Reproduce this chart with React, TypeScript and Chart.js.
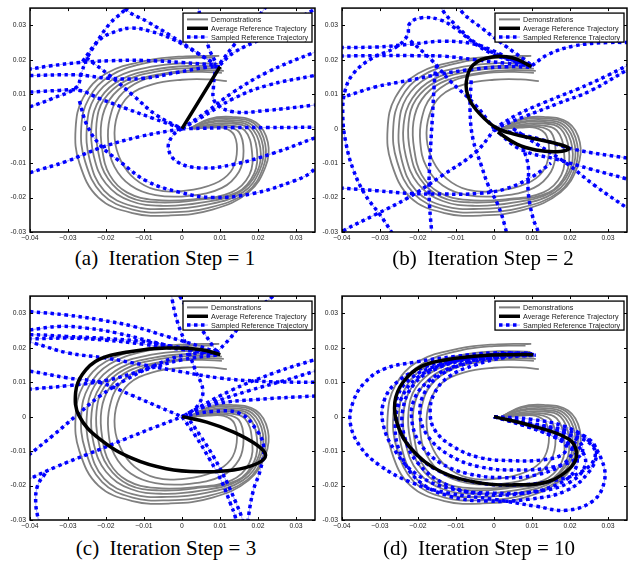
import { useEffect, useRef } from "react";
import { Chart, registerables } from "chart.js";

Chart.register(...registerables);

type P = [number, number];

// ---------- axes ----------
const X_MIN = -0.04;
const X_MAX = 0.035;
const Y_MIN = -0.03;
const Y_MAX = 0.035;
const X_TICKS = [-0.04, -0.03, -0.02, -0.01, 0, 0.01, 0.02, 0.03];
const X_TICK_LABELS = ["\u22120.04", "\u22120.03", "\u22120.02", "\u22120.01", "0", "0.01", "0.02", "0.03"];
const Y_TICKS = [-0.03, -0.02, -0.01, 0, 0.01, 0.02, 0.03];
const Y_TICK_LABELS = ["-0.03", "-0.02", "-0.01", "0", "0.01", "0.02", "0.03"];

const LEGEND_LABELS = ["Demonstrations", "Average Reference Trajectory", "Sampled Reference Trajectory"];
const CAPTIONS = ["(a)  Iteration Step = 1", "(b)  Iteration Step = 2", "(c)  Iteration Step = 3", "(d)  Iteration Step = 10"];

// ---------- demonstrations (same in every panel) ----------
const DEMO_1: P[] = [[0.002,0],[0.007,0.0028],[0.013,0.0034],[0.0195,0.0018],[0.0226,-0.004],[0.022,-0.011],[0.0175,-0.0185],[0.008,-0.0235],[-0.003,-0.0252],[-0.013,-0.0245],[-0.022,-0.02],[-0.027,-0.01],[-0.028,0],[-0.026,0.009],[-0.02,0.016],[-0.009,0.0198],[0.001,0.021],[0.0098,0.0211]];
const DEMO_2: P[] = [[0.002,0],[0.007,0.0025],[0.013,0.003],[0.019,0.0015],[0.0219,-0.0045],[0.0213,-0.0115],[0.017,-0.0185],[0.007,-0.023],[-0.004,-0.0243],[-0.013,-0.0235],[-0.021,-0.019],[-0.0255,-0.0095],[-0.0265,0.0005],[-0.0245,0.0088],[-0.019,0.0153],[-0.009,0.0192],[0,0.0205],[0.0083,0.0206]];
const DEMO_3: P[] = [[0.002,0],[0.007,0.002],[0.013,0.0025],[0.0185,0.001],[0.0213,-0.005],[0.0205,-0.012],[0.016,-0.0185],[0.006,-0.0222],[-0.004,-0.0233],[-0.013,-0.0225],[-0.0205,-0.018],[-0.0243,-0.009],[-0.025,0.001],[-0.023,0.009],[-0.0175,0.0148],[-0.008,0.018],[0.001,0.019],[0.0096,0.0188]];
const DEMO_4: P[] = [[0.0025,0],[0.007,0.0017],[0.013,0.002],[0.018,0.0005],[0.0206,-0.0055],[0.0198,-0.0125],[0.015,-0.0185],[0.005,-0.0215],[-0.005,-0.0224],[-0.0135,-0.021],[-0.02,-0.016],[-0.0232,-0.008],[-0.0238,0.001],[-0.0215,0.0088],[-0.016,0.0143],[-0.007,0.0172],[0.002,0.0182],[0.01,0.018]];
const DEMO_5: P[] = [[0.0025,0],[0.007,0.0012],[0.013,0.0015],[0.0175,0],[0.0197,-0.006],[0.019,-0.013],[0.0145,-0.0185],[0.004,-0.0207],[-0.006,-0.0214],[-0.014,-0.0198],[-0.0195,-0.0145],[-0.022,-0.007],[-0.0225,0.0015],[-0.0205,0.0085],[-0.015,0.0138],[-0.006,0.0167],[0.003,0.0176],[0.0105,0.0174]];
const DEMO_6: P[] = [[0.003,0],[0.007,0.0008],[0.012,0.001],[0.0165,-0.0005],[0.0184,-0.0065],[0.0177,-0.0135],[0.013,-0.0185],[0.003,-0.0205],[-0.007,-0.0207],[-0.0145,-0.0185],[-0.019,-0.0135],[-0.021,-0.006],[-0.0212,0.002],[-0.019,0.0085],[-0.014,0.0133],[-0.005,0.016],[0.004,0.017],[0.011,0.0168]];
const DEMO_7: P[] = [[0.003,0],[0.007,0.0005],[0.0115,0.0006],[0.015,-0.001],[0.0162,-0.0065],[0.015,-0.0125],[0.0105,-0.0172],[0.002,-0.0195],[-0.007,-0.0193],[-0.0135,-0.0165],[-0.0178,-0.011],[-0.0194,-0.004],[-0.019,0.003],[-0.0165,0.0093],[-0.011,0.0138],[-0.003,0.016],[0.005,0.0165],[0.0105,0.0162]];
const DEMO_8: P[] = [[0.003,0],[0.007,0.0003],[0.011,0.0002],[0.0138,-0.002],[0.0144,-0.0075],[0.0128,-0.0125],[0.0085,-0.016],[0.001,-0.018],[-0.007,-0.0177],[-0.0125,-0.0145],[-0.016,-0.0095],[-0.0177,-0.003],[-0.017,0.004],[-0.014,0.0095],[-0.008,0.0128],[0,0.0142],[0.007,0.0143],[0.0118,0.0138]];
const DEMOS: P[][] = [DEMO_1, DEMO_2, DEMO_3, DEMO_4, DEMO_5, DEMO_6, DEMO_7, DEMO_8];

// ---------- (a) iteration 1 ----------
const AVG_A: P[] = [[0,0],[0.01,0.018]];
const SAMPLES_A: P[][] = [
  [[-0.046,0.0168],[-0.04,0.0173],[-0.0348,0.0182],[-0.0269,0.0192],[-0.019,0.0197],[-0.01,0.0198],[0,0.0192],[0.009,0.0185]],
  [[-0.046,0.0153],[-0.0401,0.0154],[-0.0278,0.0156],[-0.019,0.0146],[-0.0102,0.0146],[-0.0014,0.0163],[0.0065,0.0178],[0.01,0.018]],
  [[-0.046,0.0104],[-0.0401,0.0106],[-0.0322,0.0111],[-0.0269,0.0111],[-0.0216,0.0087],[-0.0146,0.0058],[-0.0076,0.003],[0,0]],
  [[-0.046,-0.015],[-0.0401,-0.0128],[-0.0304,-0.0095],[-0.0216,-0.0056],[-0.0111,-0.0023],[0,0]],
  [[-0.046,0.004],[-0.0401,0.0063],[-0.034,0.0088],[-0.0278,0.012],[-0.0265,0.016],[-0.0252,0.02],[-0.0225,0.025],[-0.019,0.0305],[-0.0155,0.034],[-0.012,0.038]],
  [[-0.0262,0.0195],[-0.0216,0.0259],[-0.0172,0.0283],[-0.0133,0.0292],[-0.0084,0.0283],[-0.0023,0.0259],[0.0039,0.022],[0.0085,0.019]],
  [[-0.018,0.04],[-0.0146,0.0345],[-0.009,0.031],[-0.003,0.027],[0.002,0.0235],[0.0065,0.0202],[0.009,0.0185]],
  [[0.003,0.04],[0.0045,0.034],[0.006,0.028],[0.0072,0.023],[0.009,0.019]],
  [[0.01,0.019],[0.0135,0.024],[0.0153,0.0265],[0.0188,0.0307],[0.0215,0.0345],[0.024,0.038]],
  [[0.01,0.0185],[0.0135,0.022],[0.0223,0.0268],[0.0285,0.0307],[0.0347,0.0345],[0.04,0.0375]],
  [[0,0],[0.0065,0.0049],[0.0135,0.0106],[0.0223,0.0163],[0.0347,0.0221],[0.042,0.025]],
  [[0,0],[0.0047,0.003],[0.0135,0.0087],[0.0223,0.0125],[0.0347,0.0154],[0.042,0.017]],
  [[0.009,0.0185],[0.0083,0.0125],[0.0087,0.0077],[0.0135,0.0049],[0.0223,0.0053],[0.0347,0.0068],[0.042,0.0075]],
  [[0,0],[0.0012,0],[0.0135,0.0003],[0.0223,0.0003],[0.0347,0.0004],[0.042,0.0004]],
  [[0,0],[-0.0023,-0.0018],[-0.0036,-0.0056],[-0.0014,-0.0095],[0.0047,-0.0114],[0.0135,-0.0104],[0.0241,-0.0071],[0.0347,-0.0028],[0.042,0]],
  [[-0.027,0.008],[-0.025,0.001],[-0.0216,-0.0047],[-0.0164,-0.0095],[-0.0093,-0.0152],[-0.0005,-0.0185],[0.0083,-0.02],[0.0188,-0.0188],[0.0294,-0.0152],[0.0338,-0.0128],[0.037,-0.009]],
  [[-0.0252,0.0206],[-0.019,0.0154],[-0.0128,0.0096],[-0.0067,0.0039],[0,0]],
];

// ---------- (b) iteration 2 ----------
const AVG_B: P[] = [[0.001,-0.001],[0.006,-0.0045],[0.011,-0.0062],[0.0165,-0.0067],[0.0197,-0.0058],[0.017,-0.0045],[0.011,-0.003],[0.005,-0.0015],[0.0005,0.0003],[-0.0035,0.004],[-0.0065,0.0085],[-0.0073,0.0135],[-0.0055,0.0185],[-0.0005,0.0208],[0.005,0.0205],[0.0098,0.018]];
const SAMPLES_B: P[][] = [
  [[-0.025,-0.034],[-0.027,-0.03],[-0.03,-0.025],[-0.034,-0.019],[-0.037,-0.012],[-0.039,-0.004],[-0.0398,0.004],[-0.0392,0.011],[-0.037,0.016],[-0.032,0.0205],[-0.026,0.0235],[-0.0228,0.027],[-0.0222,0.0305],[-0.019,0.0322],[-0.014,0.0315],[-0.01,0.029],[-0.006,0.0255],[-0.001,0.022],[0.004,0.02],[0.01,0.0183]],
  [[-0.046,0.0235],[-0.031,0.0237],[-0.022,0.0245],[-0.013,0.0254],[-0.005,0.0245],[0,0.0225],[0.005,0.02],[0.01,0.0183]],
  [[-0.046,0.021],[-0.031,0.0212],[-0.022,0.0212],[-0.013,0.021],[-0.005,0.02],[0.003,0.019],[0.01,0.0183]],
  [[-0.046,0.0085],[-0.04,0.0092],[-0.0313,0.0121],[-0.0225,0.014],[-0.0138,0.0159],[-0.005,0.0173],[0.0037,0.018],[0.0098,0.0178]],
  [[0.01,0.0183],[0.0142,0.0215],[0.021,0.024],[0.03,0.025],[0.04,0.0248]],
  [[0,0],[0.008,0.0035],[0.0168,0.0073],[0.0256,0.0111],[0.035,0.017],[0.042,0.021]],
  [[0,0],[0.006,0.004],[0.013,0.0075],[0.022,0.0115],[0.03,0.0155],[0.038,0.02]],
  [[0,0],[0.012,-0.003],[0.021,-0.006],[0.035,-0.0085],[0.042,-0.0095]],
  [[0,0],[0.007,-0.006],[0.0168,-0.009],[0.0256,-0.0118],[0.035,-0.0146],[0.042,-0.017]],
  [[0.005,0],[0.012,-0.005],[0.019,-0.01],[0.0265,-0.0165],[0.035,-0.023],[0.042,-0.028]],
  [[-0.015,0.038],[-0.0133,0.034],[-0.01,0.03],[-0.005,0.025],[0.002,0.021],[0.01,0.0183]],
  [[-0.01,0.038],[-0.0085,0.034],[-0.003,0.029],[0.003,0.024],[0.008,0.02],[0.01,0.0183]],
  [[-0.015,0.0185],[-0.0155,0.016],[-0.0162,0.0035],[-0.0168,-0.0079],[-0.0171,-0.0184],[-0.0164,-0.0299],[-0.0158,-0.035]],
  [[-0.006,0.014],[-0.0063,0.005],[-0.0055,-0.0032],[-0.0033,-0.0108],[-0.0015,-0.0165],[0.0011,-0.0223],[0.0028,-0.028],[0.004,-0.034]],
  [[0.0075,-0.005],[0.009,-0.0108],[0.009,-0.0184],[0.0103,-0.0261],[0.0116,-0.0299],[0.0122,-0.034]],
  [[-0.046,-0.0168],[-0.031,-0.018],[-0.022,-0.0188],[-0.013,-0.019],[-0.004,-0.0188],[0.003,-0.0175],[0.01,-0.014],[0.015,-0.01]],
  [[-0.046,-0.034],[-0.0391,-0.0293],[-0.0313,-0.025],[-0.0225,-0.02],[-0.0138,-0.0137],[-0.005,-0.007],[0,-0.0005]],
  [[-0.022,0.0255],[-0.0165,0.02],[-0.0115,0.0138],[-0.005,0.007],[0,0]],
];

// ---------- (c) iteration 3 ----------
const AVG_C: P[] = [[0,0],[0.0065,-0.0016],[0.0136,-0.0045],[0.0198,-0.0083],[0.022,-0.0112],[0.0198,-0.0136],[0.0136,-0.0155],[0.0048,-0.016],[-0.0041,-0.0151],[-0.0129,-0.0122],[-0.0218,-0.0064],[-0.0271,0.0003],[-0.028,0.007],[-0.0262,0.0123],[-0.0218,0.0166],[-0.0129,0.019],[-0.0041,0.0199],[0.0048,0.0195],[0.0101,0.018]];
const SAMPLES_C: P[][] = [
  [[-0.046,0.031],[-0.0401,0.0305],[-0.0304,0.0295],[-0.0216,0.0281],[-0.0128,0.0262],[-0.004,0.0233],[0.0047,0.0204],[0.0096,0.0185]],
  [[-0.046,0.0248],[-0.0401,0.0252],[-0.0322,0.0262],[-0.0251,0.0257],[-0.0172,0.0243],[-0.0084,0.0219],[0.001,0.0195],[0.0098,0.0182]],
  [[-0.046,0.0236],[-0.0401,0.0238],[-0.0304,0.0233],[-0.0216,0.0228],[-0.0111,0.0219],[-0.0023,0.0204],[0.0098,0.0182]],
  [[-0.046,0.0228],[-0.0397,0.0226],[-0.03,0.0228],[-0.02,0.0222],[-0.01,0.021],[0,0.0195],[0.0095,0.0183]],
  [[-0.046,0.023],[-0.0392,0.0214],[-0.03,0.0185],[-0.02,0.017],[-0.01,0.015],[0,0.013],[0.01,0.0112],[0.02,0.0103],[0.03,0.01],[0.036,0.01],[0.042,0.0098]],
  [[-0.046,0.0137],[-0.0401,0.0132],[-0.0304,0.0113],[-0.0216,0.0099],[-0.0128,0.006],[-0.0058,0.0027],[0,0]],
  [[-0.046,0.0075],[-0.04,0.008],[-0.03,0.009],[-0.02,0.0105],[-0.01,0.0135],[0,0.0165],[0.01,0.018]],
  [[-0.046,-0.016],[-0.0404,-0.0112],[-0.034,-0.0055],[-0.0278,0.0003],[-0.0216,0.006],[-0.0146,0.0108],[-0.0076,0.0147],[0.0012,0.018],[0.0098,0.0182]],
  [[-0.046,-0.021],[-0.04,-0.018],[-0.033,-0.0145],[-0.025,-0.011],[-0.015,-0.0065],[-0.007,-0.003],[0,0]],
  [[-0.036,-0.0165],[-0.038,-0.02],[-0.0385,-0.025],[-0.0378,-0.03],[-0.037,-0.035]],
  [[-0.001,0.037],[-0.0005,0.0348],[0.003,0.029],[0.006,0.024],[0.009,0.019]],
  [[0,0],[0.0035,-0.0055],[0.0074,-0.0126],[0.0105,-0.019],[0.0127,-0.0251],[0.014,-0.029],[0.0148,-0.034]],
  [[0.001,0.0005],[0.0048,-0.0055],[0.0085,-0.012],[0.0118,-0.019],[0.0142,-0.025],[0.0158,-0.0295],[0.0168,-0.034]],
  [[0,0],[0.008,0.0015],[0.0153,0.0009],[0.0197,-0.004],[0.0215,-0.0088],[0.0206,-0.0155],[0.0188,-0.0213],[0.0175,-0.029],[0.017,-0.035]],
  [[-0.003,0.038],[-0.0025,0.0335],[-0.0012,0.0275],[0.001,0.021],[0.0035,0.0135],[0.0055,0.0075],[0.004,0.003],[0.001,0.0005]],
  [[0,0],[0.0127,0.0075],[0.025,0.013],[0.0351,0.0166],[0.042,0.019]],
  [[0,0],[0.008,0.004],[0.0175,0.0075],[0.027,0.0105],[0.035,0.0132],[0.042,0.0155]],
  [[0,0],[0.008,0.0035],[0.02,0.005],[0.035,0.006],[0.042,0.0065]],
  [[0.009,0.0185],[0.0127,0.0228],[0.0165,0.028],[0.0205,0.032],[0.0232,0.0343],[0.027,0.038]],
];

// ---------- (d) iteration 10 ----------
const AVG_D: P[] = [[0,0],[0.0098,-0.0026],[0.0195,-0.0064],[0.0217,-0.0102],[0.0204,-0.0145],[0.0142,-0.0189],[0.0054,-0.0198],[-0.0033,-0.0193],[-0.0139,-0.016],[-0.0218,-0.0093],[-0.0253,-0.0026],[-0.0261,0.0041],[-0.024,0.0099],[-0.0191,0.0146],[-0.0121,0.0166],[-0.0033,0.0177],[0.0054,0.018],[0.0103,0.018]];
const SAMPLES_D: P[][] = [
  [[0,0],[0.01,-0.0008],[0.019,-0.003],[0.025,-0.007],[0.0285,-0.013],[0.029,-0.019],[0.026,-0.0245],[0.019,-0.0272],[0.011,-0.026],[0,-0.024],[-0.012,-0.0222],[-0.022,-0.019],[-0.03,-0.0142],[-0.035,-0.009],[-0.0378,-0.002],[-0.037,0.0045],[-0.034,0.0099],[-0.029,0.0138],[-0.021,0.0158],[-0.01,0.0175],[0,0.0185],[0.01,0.0182]],
  [[0,0],[0.009,-0.002],[0.017,-0.005],[0.0225,-0.009],[0.024,-0.014],[0.02,-0.019],[0.011,-0.0218],[0,-0.0222],[-0.011,-0.021],[-0.02,-0.017],[-0.026,-0.01],[-0.0292,-0.002],[-0.0288,0.005],[-0.025,0.0105],[-0.018,0.0145],[-0.008,0.017],[0.002,0.0183],[0.01,0.0182]],
  [[0,0],[0.008,-0.0025],[0.015,-0.0055],[0.019,-0.0085],[0.018,-0.011],[0.013,-0.0125],[0.005,-0.0128],[-0.004,-0.0118],[-0.011,-0.0085],[-0.0155,-0.004],[-0.0168,0.001],[-0.0158,0.0065],[-0.012,0.0115],[-0.005,0.015],[0.003,0.0172],[0.01,0.0178]],
  [[0,0],[0.009,-0.003],[0.017,-0.0065],[0.0205,-0.0095],[0.0185,-0.0135],[0.0115,-0.0168],[0.002,-0.0177],[-0.007,-0.0165],[-0.014,-0.0135],[-0.019,-0.0085],[-0.0215,-0.002],[-0.021,0.005],[-0.017,0.0105],[-0.01,0.0148],[-0.001,0.0172],[0.007,0.018],[0.011,0.0178]],
  [[0,0],[0.01,-0.002],[0.019,-0.004],[0.025,-0.0065],[0.027,-0.0105],[0.025,-0.016],[0.019,-0.0215],[0.009,-0.024],[-0.002,-0.0245],[-0.012,-0.023],[-0.02,-0.0185],[-0.0245,-0.011],[-0.026,-0.003],[-0.0245,0.005],[-0.02,0.0115],[-0.012,0.0155],[-0.002,0.0178],[0.008,0.0185],[0.0105,0.018]],
  [[0,0],[0.008,-0.0025],[0.016,-0.0055],[0.021,-0.0095],[0.0215,-0.015],[0.017,-0.0195],[0.008,-0.0222],[-0.003,-0.0225],[-0.013,-0.0195],[-0.02,-0.0135],[-0.0235,-0.006],[-0.024,0.002],[-0.021,0.0095],[-0.015,0.014],[-0.006,0.0168],[0.004,0.018],[0.01,0.018]],
  [[0,0],[0.009,-0.002],[0.018,-0.0045],[0.023,-0.008],[0.0225,-0.0115],[0.016,-0.0145],[0.006,-0.0155],[-0.004,-0.0145],[-0.012,-0.011],[-0.0175,-0.0055],[-0.0195,0.001],[-0.018,0.0075],[-0.0135,0.0125],[-0.006,0.0158],[0.003,0.0175],[0.01,0.0178]],
  [[0,0],[0.01,-0.0025],[0.019,-0.005],[0.0255,-0.008],[0.0265,-0.012],[0.023,-0.016],[0.016,-0.0185],[0.006,-0.0198],[-0.005,-0.019],[-0.015,-0.0155],[-0.022,-0.009],[-0.0255,-0.0015],[-0.0255,0.0055],[-0.022,0.011],[-0.015,0.0148],[-0.005,0.0172],[0.005,0.0182],[0.0105,0.018]],
];

// ---------- styling ----------
const TICK_FONT = { family: '"Liberation Sans", Arial, sans-serif', size: 6.8 };
const GRAY = "#808080";
const BLUE = "#0000ff";
const FAINT_BLUE = "rgba(80,80,255,0.5)";
const SAMPLE_DASH = [3.5, 3.5];

const toXY = (pts: P[]) => pts.map(([x, y]) => ({ x, y }));

function buildDatasets(avg: P[], samples: P[][]) {
  const ds: any[] = [];
  DEMOS.forEach((d) => ds.push({ data: toXY(d), borderColor: GRAY, borderWidth: 1.8, order: 3 }));
  samples.forEach((s) => {
    ds.push({ data: toXY(s), borderColor: FAINT_BLUE, borderWidth: 1, order: 2 });
    ds.push({ data: toXY(s), borderColor: BLUE, borderWidth: 3.5, borderDash: SAMPLE_DASH, order: 1 });
  });
  ds.push({ data: toXY(avg), borderColor: "#000", borderWidth: 3.5, order: 0 });
  return ds.map((d) => ({ ...d, showLine: true, pointRadius: 0, fill: false }));
}

const framePlugin = {
  id: "frame",
  afterDatasetsDraw(chart: any) {
    const { ctx, chartArea: a, scales } = chart;
    const xs = scales.x;
    const ys = scales.y;
    ctx.save();
    ctx.strokeStyle = "#000";
    ctx.lineWidth = 1;
    ctx.beginPath();
    X_TICKS.forEach((v) => {
      const px = Math.round(xs.getPixelForValue(v)) + 0.5;
      ctx.moveTo(px, a.bottom);
      ctx.lineTo(px, a.bottom - 3);
      ctx.moveTo(px, a.top);
      ctx.lineTo(px, a.top + 3);
    });
    Y_TICKS.forEach((v) => {
      const py = Math.round(ys.getPixelForValue(v)) + 0.5;
      ctx.moveTo(a.left, py);
      ctx.lineTo(a.left + 3, py);
      ctx.moveTo(a.right, py);
      ctx.lineTo(a.right - 3, py);
    });
    ctx.stroke();
    ctx.lineWidth = 1.5;
    ctx.strokeRect(a.left, a.top, a.right - a.left, a.bottom - a.top);

    // legend box
    const bw = 129;
    const bh = 29;
    const bx = a.right - 3 - bw;
    const by = a.top + 5;
    ctx.fillStyle = "#fff";
    ctx.fillRect(bx, by, bw, bh);
    ctx.lineWidth = 1.3;
    ctx.strokeStyle = "#000";
    ctx.strokeRect(bx, by, bw, bh);
    const rows = [by + 6.3, by + 15.2, by + 24];
    const x0 = bx + 4;
    const x1 = bx + 25;
    ctx.strokeStyle = GRAY;
    ctx.lineWidth = 2;
    ctx.beginPath();
    ctx.moveTo(x0, rows[0]);
    ctx.lineTo(x1, rows[0]);
    ctx.stroke();
    ctx.strokeStyle = "#000";
    ctx.lineWidth = 3.5;
    ctx.beginPath();
    ctx.moveTo(x0, rows[1]);
    ctx.lineTo(x1, rows[1]);
    ctx.stroke();
    ctx.strokeStyle = FAINT_BLUE;
    ctx.lineWidth = 1;
    ctx.beginPath();
    ctx.moveTo(x0, rows[2]);
    ctx.lineTo(x1, rows[2]);
    ctx.stroke();
    ctx.strokeStyle = BLUE;
    ctx.lineWidth = 3.5;
    ctx.setLineDash(SAMPLE_DASH);
    ctx.beginPath();
    ctx.moveTo(x0, rows[2]);
    ctx.lineTo(x1, rows[2]);
    ctx.stroke();
    ctx.setLineDash([]);
    ctx.fillStyle = "#222";
    ctx.font = '7.2px "Liberation Sans", Arial, sans-serif';
    ctx.textBaseline = "middle";
    ctx.textAlign = "left";
    LEGEND_LABELS.forEach((t, i) => ctx.fillText(t, bx + 28, rows[i] + 0.5));
    ctx.restore();
  },
};

function Panel(props: { left: number; top: number; avg: P[]; samples: P[][] }) {
  const ref = useRef<HTMLCanvasElement | null>(null);
  useEffect(() => {
    if (!ref.current) return;
    const chart = new Chart(ref.current, {
      type: "scatter",
      data: { datasets: buildDatasets(props.avg, props.samples) },
      options: {
        animation: false,
        responsive: false,
        maintainAspectRatio: false,
        events: [],
        layout: { padding: { left: 0, right: 3, top: 5, bottom: 0 } },
        elements: {
          line: { tension: 0.4, capBezierPoints: false, borderCapStyle: "butt" },
          point: { radius: 0 },
        },
        plugins: { legend: { display: false }, tooltip: { enabled: false } },
        scales: {
          x: {
            type: "linear",
            min: X_MIN,
            max: X_MAX,
            grid: { display: false, drawTicks: false },
            border: { display: false },
            afterBuildTicks: (s: any) => {
              s.ticks = X_TICKS.map((v) => ({ value: v }));
            },
            afterFit: (s: any) => {
              s.height = 13;
            },
            ticks: {
              autoSkip: false,
              maxRotation: 0,
              minRotation: 0,
              padding: 2,
              color: "#222",
              font: TICK_FONT,
              callback: (_v: any, i: number) => X_TICK_LABELS[i],
            },
          },
          y: {
            type: "linear",
            min: Y_MIN,
            max: Y_MAX,
            grid: { display: false, drawTicks: false },
            border: { display: false },
            afterBuildTicks: (s: any) => {
              s.ticks = Y_TICKS.map((v) => ({ value: v }));
            },
            afterFit: (s: any) => {
              s.width = 30;
            },
            ticks: {
              autoSkip: false,
              padding: 4,
              color: "#222",
              font: TICK_FONT,
              callback: (_v: any, i: number) => Y_TICK_LABELS[i],
            },
          },
        },
      } as any,
      plugins: [framePlugin as any],
    });
    return () => chart.destroy();
  }, []);
  return (
    <canvas
      ref={ref}
      width={318}
      height={245}
      style={{ position: "absolute", left: props.left, top: props.top, width: 318, height: 245 }}
    />
  );
}

function Caption(props: { text: string; cx: number; cy: number }) {
  return (
    <div
      style={{
        position: "absolute",
        left: props.cx - 160,
        top: props.cy - 12,
        width: 320,
        height: 24,
        lineHeight: "24px",
        textAlign: "center",
        whiteSpace: "pre",
        fontFamily: '"Liberation Serif", "Times New Roman", serif',
        fontSize: 21,
        color: "#000",
      }}
    >
      {props.text}
    </div>
  );
}

export default function App() {
  return (
    <div style={{ position: "absolute", left: 0, top: 0, width: 634, height: 569, background: "#fff", overflow: "hidden" }}>
      <Panel left={0} top={0} avg={AVG_A} samples={SAMPLES_A} />
      <Panel left={312} top={0} avg={AVG_B} samples={SAMPLES_B} />
      <Panel left={0} top={288} avg={AVG_C} samples={SAMPLES_C} />
      <Panel left={312} top={288} avg={AVG_D} samples={SAMPLES_D} />
      <Caption text={CAPTIONS[0]} cx={165} cy={258} />
      <Caption text={CAPTIONS[1]} cx={483} cy={258} />
      <Caption text={CAPTIONS[2]} cx={166} cy={548} />
      <Caption text={CAPTIONS[3]} cx={479} cy={548} />
    </div>
  );
}
